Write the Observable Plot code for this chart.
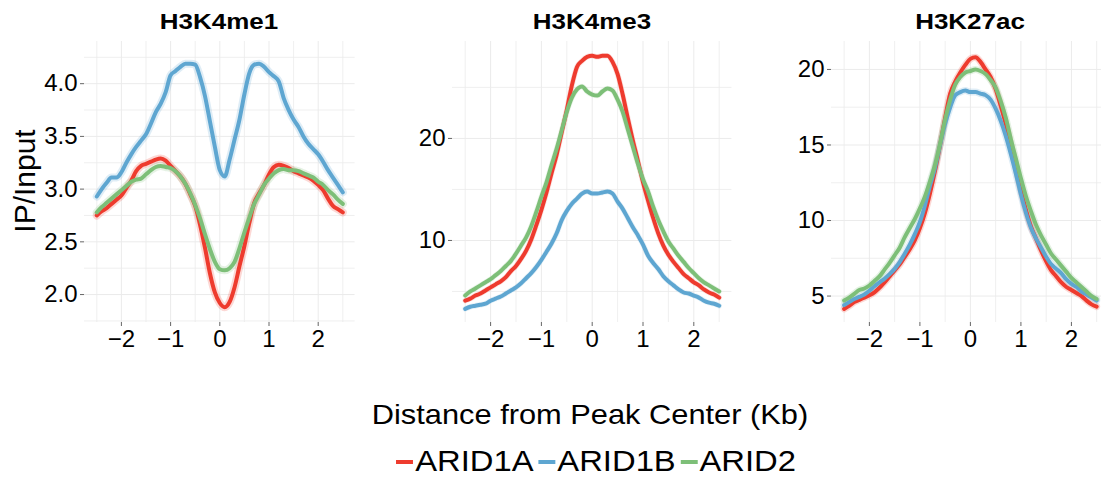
<!DOCTYPE html>
<html>
<head>
<meta charset="utf-8">
<script src="https://cdn.jsdelivr.net/npm/d3@7"></script>
<script src="https://cdn.jsdelivr.net/npm/@observablehq/plot@0.6"></script>
<style>
  html, body { margin: 0; padding: 0; background: #fff; overflow: hidden; }
  #chart { position: relative; width: 1101px; height: 478px; overflow: hidden; background: #fff;
           font-family: "Liberation Sans", Arial, Helvetica, sans-serif; color: #000; }
  #chart svg { max-width: none !important; }
  #chart svg text { font-size: 24px; }
  .abs { position: absolute; white-space: nowrap; }
  .ptitle { font-weight: bold; font-size: 22px; line-height: 22px; width: 200px; text-align: center; transform: scaleX(1.18); }
</style>
</head>
<body>
<div id="chart"></div>
<script>
// ---------- data ----------
const positions = d3.range(51).map(i => Math.round((-2.5 + i * 0.1) * 10) / 10); // kb from peak center
const seriesNames = ["ARID1A", "ARID1B", "ARID2"];
const seriesColors = ["#EE3B2E", "#5EA6D1", "#7DBF78"];
const panelTitles = ["H3K4me1", "H3K4me3", "H3K27ac"];
const xTickValues = [-2, -1, 0, 1, 2];
const xMinorValues = [-2.5, -1.5, -0.5, 0.5, 1.5, 2.5];

// H3K4me1
const me1_ARID1A = [2.75,2.79,2.82,2.86,2.90,2.94,3.01,3.08,3.17,3.22,3.24,3.26,3.28,3.29,3.27,3.22,3.17,3.12,3.05,2.95,2.84,2.66,2.44,2.20,2.02,1.92,1.88,1.93,2.07,2.27,2.46,2.68,2.87,2.96,3.04,3.14,3.21,3.23,3.22,3.20,3.17,3.15,3.13,3.11,3.08,3.04,2.99,2.91,2.84,2.81,2.78];
const me1_ARID1B = [2.93,3.00,3.06,3.11,3.11,3.16,3.25,3.33,3.40,3.46,3.52,3.62,3.73,3.81,3.92,4.08,4.12,4.16,4.19,4.19,4.18,4.06,3.88,3.64,3.40,3.18,3.12,3.28,3.47,3.66,3.90,4.10,4.18,4.19,4.16,4.11,4.07,4.02,3.86,3.75,3.66,3.59,3.50,3.43,3.38,3.33,3.26,3.18,3.11,3.04,2.97];
const me1_ARID2  = [2.78,2.83,2.87,2.91,2.95,2.99,3.03,3.07,3.09,3.10,3.14,3.18,3.21,3.22,3.21,3.20,3.17,3.12,3.05,2.96,2.85,2.72,2.57,2.43,2.31,2.24,2.23,2.25,2.31,2.44,2.59,2.73,2.86,2.95,3.04,3.10,3.15,3.18,3.19,3.18,3.18,3.17,3.15,3.13,3.11,3.07,3.04,2.99,2.95,2.90,2.86];
// H3K4me3
const me3_ARID1A = [4.1,4.3,4.6,4.8,5.1,5.4,5.7,6.0,6.4,7.0,7.5,8.2,9.0,10.1,11.5,13.0,14.7,16.6,18.4,20.6,22.8,25.2,27.0,27.6,28.0,28.1,28.0,28.1,28.1,27.5,26.3,24.3,22.0,19.8,17.8,15.7,13.9,12.2,10.7,9.5,8.6,7.9,7.3,6.7,6.3,5.9,5.6,5.2,4.9,4.7,4.4];
const me3_ARID1B = [3.3,3.5,3.6,3.7,3.8,4.1,4.3,4.5,4.8,5.1,5.4,5.8,6.3,6.8,7.4,8.1,8.9,9.7,10.7,12.0,12.9,13.6,14.1,14.6,14.8,14.6,14.6,14.7,14.8,14.6,13.8,13.1,12.2,11.3,10.5,9.6,8.5,7.8,7.2,6.5,6.0,5.6,5.2,4.9,4.8,4.6,4.4,4.1,3.9,3.8,3.6];
const me3_ARID2  = [4.6,5.0,5.3,5.6,5.9,6.2,6.6,7.0,7.5,8.0,8.7,9.5,10.3,11.4,12.8,14.3,15.7,17.4,19.0,20.8,22.6,24.0,24.8,25.1,24.6,24.3,24.2,24.6,24.9,24.7,23.8,22.6,20.9,19.2,17.5,16.0,14.8,13.3,12.0,10.9,9.9,9.2,8.5,7.9,7.3,6.8,6.3,5.9,5.6,5.3,5.0];
// H3K27ac
const ac_ARID1A = [4.15,4.35,4.6,4.75,4.9,5.05,5.25,5.55,5.9,6.3,6.7,7.1,7.6,8.1,8.7,9.5,10.5,11.8,13.3,15.0,16.8,18.4,19.2,19.8,20.3,20.7,20.8,20.5,20.0,19.5,18.7,17.6,16.4,15.0,13.6,12.0,10.7,9.6,8.8,8.0,7.3,6.7,6.3,5.9,5.6,5.4,5.2,5.0,4.7,4.45,4.3];
const ac_ARID1B = [4.4,4.6,4.8,4.95,5.1,5.35,5.65,5.9,6.15,6.45,6.8,7.25,7.8,8.4,9.1,9.9,11.0,12.3,13.5,15.0,16.4,17.5,18.3,18.5,18.6,18.5,18.5,18.4,18.3,18.0,17.4,16.6,15.6,14.4,13.1,11.7,10.5,9.5,8.8,8.2,7.6,7.1,6.8,6.5,6.1,5.8,5.6,5.3,5.1,4.9,4.7];
const ac_ARID2  = [4.7,4.9,5.15,5.4,5.5,5.7,6.0,6.3,6.75,7.2,7.7,8.2,8.9,9.5,10.1,10.8,11.6,12.6,13.7,15.1,16.7,18.0,19.0,19.5,19.8,19.9,20.0,19.9,19.7,19.3,18.8,17.9,16.8,15.4,14.1,12.8,11.6,10.6,9.7,9.0,8.4,7.8,7.4,7.0,6.6,6.2,5.9,5.6,5.3,5.0,4.8];

// y ticks (labels) per panel
const me1_yTicks = [2.0, 2.5, 3.0, 3.5, 4.0];
const me1_yMinor = [1.75, 2.25, 2.75, 3.25, 3.75, 4.25];
const me3_yTicks = [10, 20];
const me3_yMinor = [5, 15, 25];
const ac_yTicks = [5, 10, 15, 20];
const ac_yMinor = [7.5, 12.5, 17.5];

// ---------- layout ----------
const FONT = '"Liberation Sans", Arial, Helvetica, sans-serif';
const chart = document.getElementById("chart");

function makePanel({values, yDomain, yTicks, yMinor, fmt, left, marginLeft, plotWidth, title, halo, haloOpacity}) {
  const data = [];
  values.forEach((vals, s) => positions.forEach((p, i) => data.push({x: p, y: vals[i], name: seriesNames[s]})));
  const width = Math.round(marginLeft + plotWidth + 6);
  const grid = {stroke: "#ebebeb", strokeWidth: 1};
  const svg = Plot.plot({
    width, height: 360,
    marginLeft, marginRight: width - marginLeft - plotWidth, marginTop: 41, marginBottom: 38,
    style: {fontFamily: FONT, fontSize: "24px", color: "#000", background: "transparent", overflow: "visible"},
    x: {domain: [-2.75, 2.75]},
    y: {domain: yDomain},
    color: {domain: seriesNames, range: seriesColors},
    marks: [
      Plot.ruleX(xMinorValues, {...grid, strokeWidth: 0.8}),
      Plot.ruleX(xTickValues, grid),
      Plot.ruleY(yMinor.filter(v => v > yDomain[0] && v < yDomain[1]), {...grid, strokeWidth: 0.8}),
      Plot.ruleY(yTicks, grid),
      Plot.line(data, {x: "x", y: "y", z: "name", stroke: "name", strokeWidth: halo, strokeOpacity: haloOpacity, curve: "monotone-x"}),
      Plot.line(data, {x: "x", y: "y", z: "name", stroke: "name", strokeWidth: 4, curve: "monotone-x"}),
      Plot.axisX(xTickValues, {tickSize: 4, tickPadding: 3, stroke: "#666", fill: "#000", label: null, fontSize: 24}),
      Plot.axisY(yTicks, {tickSize: 4, tickPadding: 3, stroke: "#666", fill: "#000", label: null, fontSize: 24, tickFormat: fmt})
    ]
  });
  svg.style.maxWidth = "none";
  const holder = document.createElement("div");
  holder.className = "abs";
  holder.style.left = left + "px";
  holder.style.top = "0px";
  holder.style.width = width + "px";
  holder.appendChild(svg);
  chart.appendChild(holder);

  const t = document.createElement("div");
  t.className = "abs ptitle";
  t.textContent = title;
  t.style.left = (left + marginLeft + plotWidth / 2 - 100) + "px";
  t.style.top = "11px";
  chart.appendChild(t);
}

makePanel({values: [me1_ARID1A, me1_ARID1B, me1_ARID2], yDomain: [1.735, 4.40], yTicks: me1_yTicks, yMinor: me1_yMinor,
           fmt: d3.format(".1f"), left: 0, marginLeft: 84, plotWidth: 270.6, title: panelTitles[0], halo: 8, haloOpacity: 0.2});
makePanel({values: [me3_ARID1A, me3_ARID1B, me3_ARID2], yDomain: [1.96, 29.5], yTicks: me3_yTicks, yMinor: me3_yMinor,
           fmt: d3.format("d"), left: 380, marginLeft: 72, plotWidth: 279.4, title: panelTitles[1], halo: 5.5, haloOpacity: 0.15});
makePanel({values: [ac_ARID1A, ac_ARID1B, ac_ARID2], yDomain: [3.25, 21.85], yTicks: ac_yTicks, yMinor: ac_yMinor,
           fmt: d3.format("d"), left: 740, marginLeft: 91, plotWidth: 277.8, title: panelTitles[2], halo: 7, haloOpacity: 0.2});

// y axis title
const yt = document.createElement("div");
yt.className = "abs";
yt.textContent = "IP/Input";
yt.style.cssText += "left:25px;top:181px;font-size:30px;line-height:30px;transform:translate(-50%,-50%) rotate(-90deg);";
chart.appendChild(yt);

// x axis title
const xt = document.createElement("div");
xt.className = "abs";
xt.textContent = "Distance from Peak Center (Kb)";
xt.style.cssText += "left:590px;top:401px;font-size:28px;line-height:28px;transform:translateX(-50%) scaleX(1.1);";
chart.appendChild(xt);

// legend
const lg = document.createElement("div");
lg.className = "abs";
lg.style.cssText += "left:596px;top:447px;font-size:29px;line-height:29px;display:flex;align-items:center;transform:translateX(-50%) scaleX(1.13);";
seriesNames.forEach((n, i) => {
  const key = document.createElement("span");
  key.style.cssText = `display:inline-block;width:15px;height:4px;background:${seriesColors[i]};margin-left:${i ? 4 : 0}px;margin-right:2px;`;
  const lab = document.createElement("span");
  lab.textContent = n;
  lg.appendChild(key);
  lg.appendChild(lab);
});
chart.appendChild(lg);
</script>
</body>
</html>
